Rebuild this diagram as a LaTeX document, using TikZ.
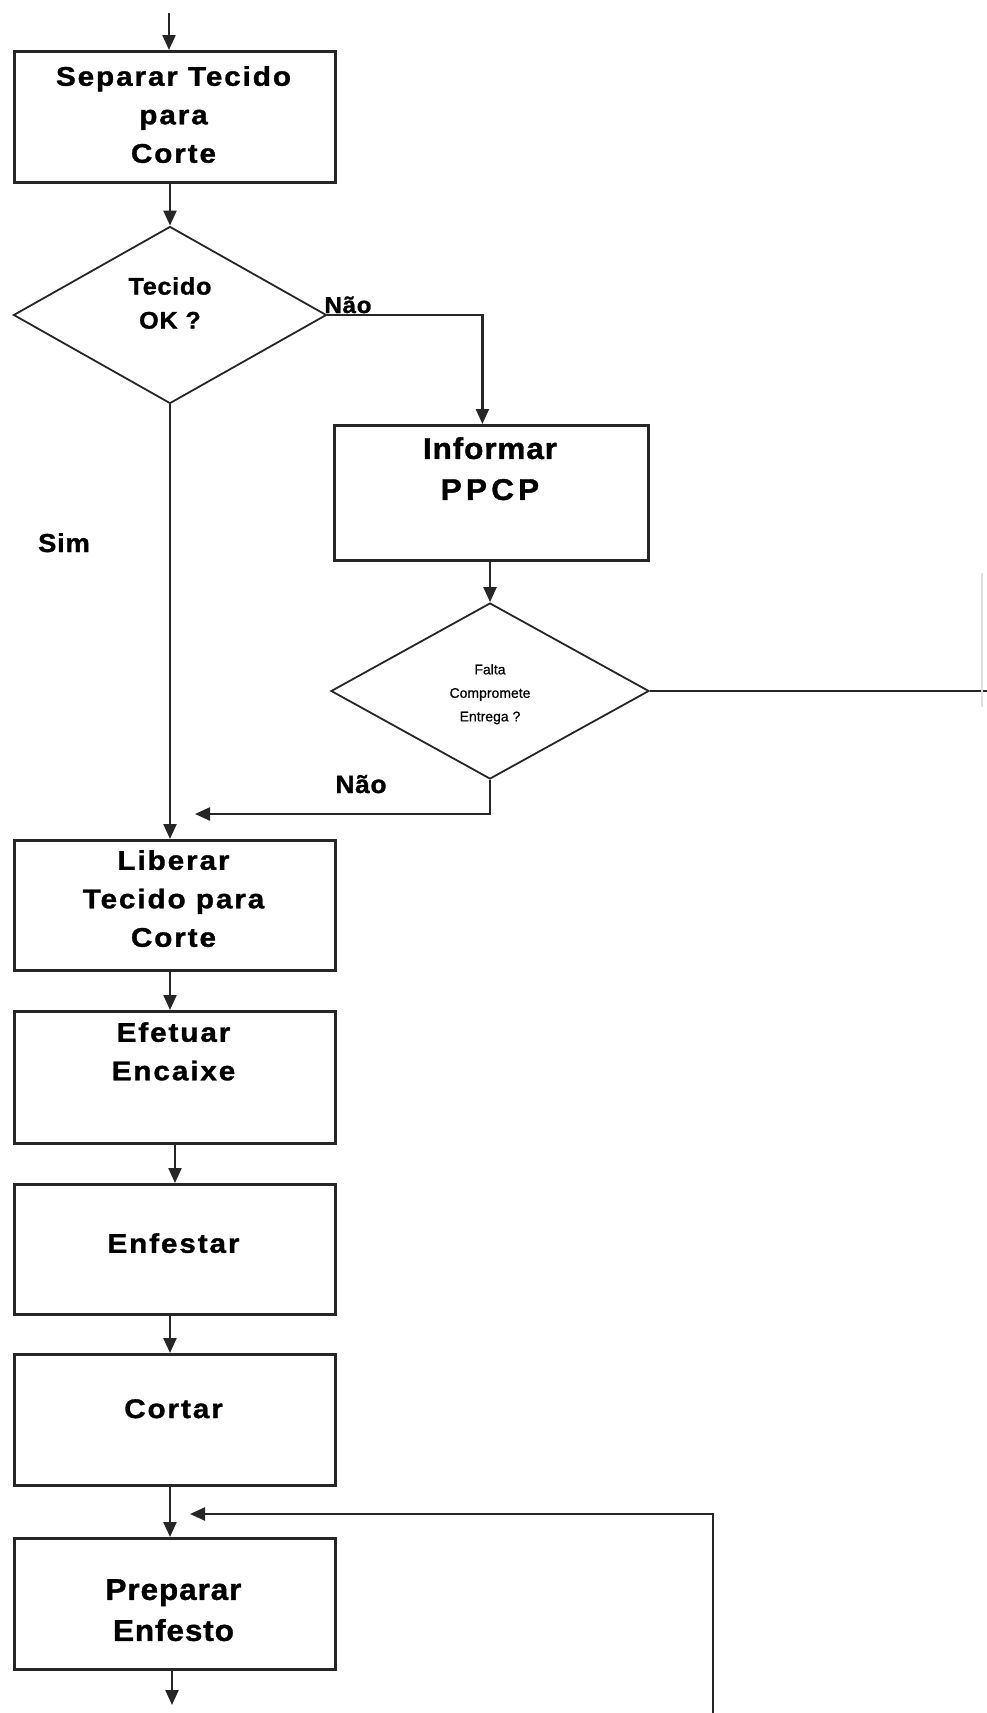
\documentclass[tikz,border=0pt]{standalone}
\usepackage{fontspec}
\setmainfont{Liberation Sans}
\newfontfamily\widefont{Liberation Sans}[LetterSpace=7, FakeStretch=1.1, FakeBold=1.2]
\newfontfamily\midfont{Liberation Sans}[LetterSpace=3, FakeStretch=1.05, FakeBold=1.2]
\newfontfamily\ppcpfont{Liberation Sans}[LetterSpace=14, FakeStretch=1.05, FakeBold=1.2]
\newfontfamily\smallfont{Liberation Sans}[FakeBold=0.6]
\usetikzlibrary{shapes.geometric,arrows.meta}

\begin{document}
\begin{tikzpicture}[x=1pt,y=-1pt,
  stepbox/.style={draw=black!85, line width=2.8pt, minimum width=321pt,
    minimum height=131pt, inner sep=0pt, anchor=north west},
  decision/.style={draw=black!85, line width=1.8pt, diamond, inner sep=0pt},
  flow/.style={draw=black!85, line width=2.3pt},
  arr/.style={flow, -{Triangle[length=15pt,width=13pt]}},
  boxtext/.style={align=center, inner sep=0pt, anchor=north,
    font=\widefont\bfseries\fontsize{27}{38.5}\selectfont},
  lbl/.style={inner sep=0pt, anchor=base, font=\midfont\bfseries\fontsize{23}{27}\selectfont}
]
% page
\useasboundingbox (0,0) rectangle (987,1713);

% process boxes
\node[stepbox] (sep) at (13,50) {};
\node[stepbox, minimum width=314pt, minimum height=135pt] (inf) at (333,424) {};
\node[stepbox, minimum height=130pt] (lib) at (13,839) {};
\node[stepbox, minimum height=132pt] (enc) at (13,1010) {};
\node[stepbox, minimum height=130pt] (enf) at (13,1183) {};
\node[stepbox] (cor) at (13,1353) {};
\node[stepbox] (pre) at (13,1537) {};

% decisions
\node[decision, minimum width=313pt, minimum height=177pt] (ok) at (170,315) {};
\node[decision, minimum width=318pt, minimum height=176pt] (fal) at (490,691) {};

% texts
\node[boxtext] (tsep) at (173.5,66) {Separar Tecido\\para\\Corte};
\node[boxtext, font=\bfseries\fontsize{30}{41}\selectfont] (tinf) at (490,437)
  {{\midfont Informar}\\{\ppcpfont PPCP}};
\node[boxtext, font=\midfont\bfseries\fontsize{24}{34}\selectfont] (tok) at (170,277) {Tecido\\OK ?};
\node[boxtext, font=\smallfont\fontsize{14}{23.5}\selectfont] (tfal) at (490,664) {Falta\\Compromete\\Entrega ?};
\node[boxtext] (tlib) at (173.5,850) {Liberar\\Tecido para\\Corte};
\node[boxtext] (tenc) at (173.5,1022) {Efetuar\\Encaixe};
\node[boxtext] (tenf) at (173.5,1233) {Enfestar};
\node[boxtext] (tcor) at (173.5,1399) {Cortar};
\node[boxtext, font=\midfont\bfseries\fontsize{30}{41}\selectfont] (tpre) at (173.5,1579) {Preparar\\Enfesto};

% branch labels
\node[lbl] (nao1) at (348,313) {Não};
\node[lbl, font=\midfont\bfseries\fontsize{25}{28}\selectfont] (nao2) at (361,793) {Não};
\node[lbl, font=\midfont\bfseries\fontsize{26}{30}\selectfont] (sim) at (64,552) {Sim};

% free ends
\coordinate (in) at (169,13);
\coordinate (out) at (172,1705);
\coordinate (offr) at (987,691);
\coordinate (join) at (195,814);
\coordinate (loopb) at (713,1713);
\coordinate (loopt) at (190,1514);

% connectors
\draw[arr] (in) -- (in |- sep.north);
\draw[arr] (ok.north |- sep.south) -- (ok.north);
\draw[arr] (ok.east) -| ([xshift=-9pt]inf.north);
\draw[arr] (fal.north |- inf.south) -- (fal.north);
\draw[flow] (fal.east) -- (offr);
\draw[arr] (fal.south) |- (join);
\draw[arr] (ok.south) -- (ok.south |- lib.north);
\draw[arr] (ok.south |- lib.south) -- (ok.south |- enc.north);
\draw[arr] ([xshift=5pt]ok.south |- enc.south) -- ([xshift=5pt]ok.south |- enf.north);
\draw[arr] (ok.south |- enf.south) -- (ok.south |- cor.north);
\draw[arr] (ok.south |- cor.south) -- (ok.south |- pre.north);
\draw[arr] (loopb) |- (loopt);
\draw[arr] (out |- pre.south) -- (out);

% faint edge remnant at the right border
\draw[black!12, line width=1.5pt] (982,573) -- (982,707);
\end{tikzpicture}
\end{document}
